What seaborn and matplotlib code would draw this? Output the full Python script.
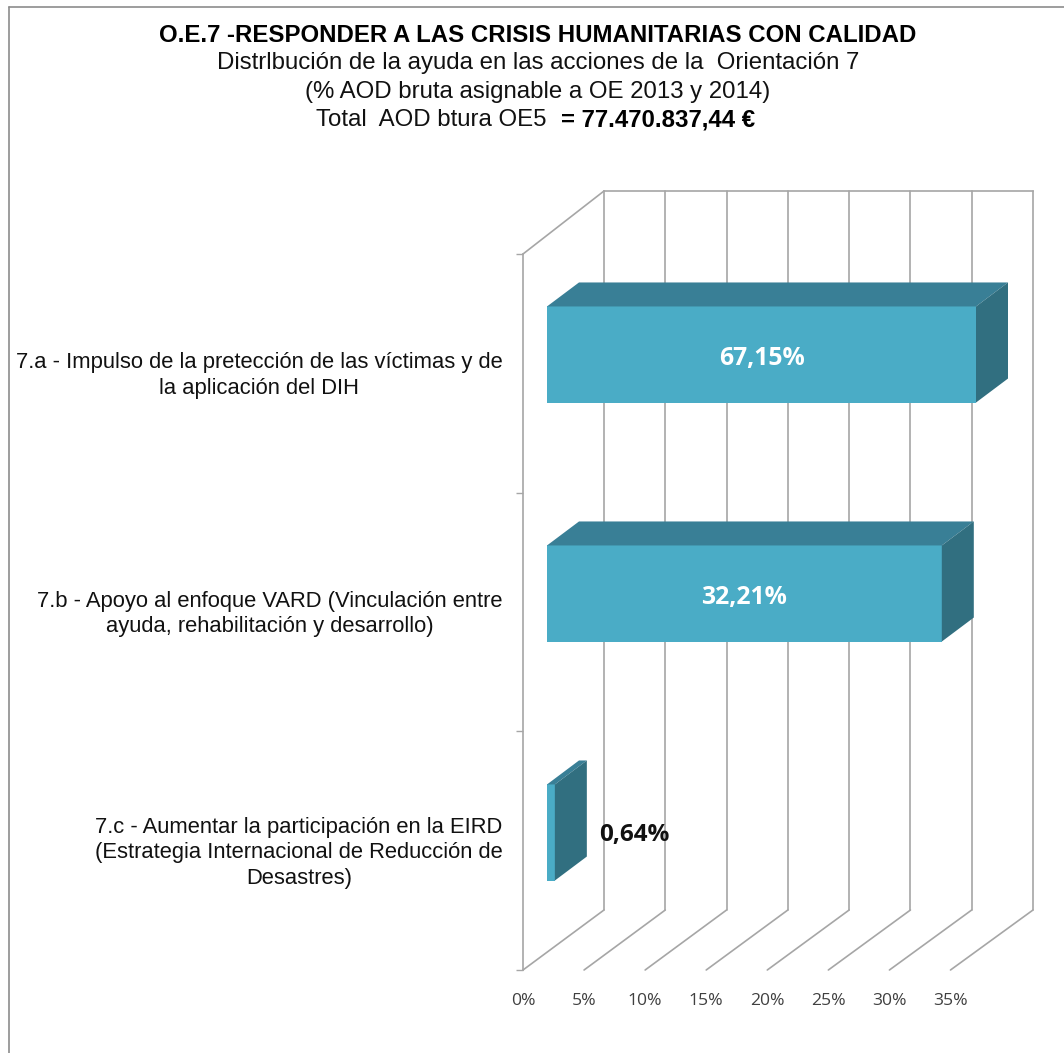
import matplotlib
matplotlib.use("Agg")
import matplotlib.pyplot as plt
import pandas as pd
import seaborn as sns
from matplotlib.lines import Line2D
from matplotlib.patches import ConnectionPatch
from matplotlib.transforms import ScaledTranslation

# Data
categories = [
    "7.a - Impulso de la pretección de las víctimas y de\nla aplicación del DIH",
    "7.b - Apoyo al enfoque VARD (Vinculación entre\nayuda, rehabilitación y desarrollo)",
    "7.c - Aumentar la participación en la EIRD\n(Estrategia Internacional de Reducción de\nDesastres)",
]
values = [67.15, 32.21, 0.64]
value_labels = ["67,15%", "32,21%", "0,64%"]
x_ticks = [0, 5, 10, 15, 20, 25, 30, 35]
x_tick_labels = ["0%", "5%", "10%", "15%", "20%", "25%", "30%", "35%"]

sns.set_theme(style="white")
plt.rcParams["font.family"] = ["Liberation Sans", "DejaVu Sans"]

W, H = 1064, 1053
GRID = "#a6a6a6"
FRONT = "#4aacc6"
TOP = "#397f96"
SIDE = "#316f80"


def px_axes(x0, y0, x1, y1):
    # axes placed by pixel box, y counted from the top of the image
    ax = fig.add_axes([x0 / W, 1 - y1 / H, (x1 - x0) / W, (y1 - y0) / H])
    ax.patch.set_visible(False)
    return ax


fig = plt.figure(figsize=(W / 100, H / 100), dpi=100, facecolor="white")

# Outer border, only left and top show in the crop
fig.add_artist(Line2D([9 / W, 9 / W], [0, 1 - 6.5 / H], color="#8c8c8c", lw=1.2))
fig.add_artist(Line2D([9 / W, 1], [1 - 6.5 / H, 1 - 6.5 / H], color="#8c8c8c", lw=1.2))

# Titles
fig.text(538 / W, 1 - 36 / H, "O.E.7 -RESPONDER A LAS CRISIS HUMANITARIAS CON CALIDAD",
         ha="center", va="center", fontsize=17.3, fontweight="bold", color="black")
fig.text(538 / W, 1 - 63 / H, "Distrlbución de la ayuda en las acciones de la  Orientación 7",
         ha="center", va="center", fontsize=17.3, color="#111111")
fig.text(538 / W, 1 - 92 / H, "(% AOD bruta asignable a OE 2013 y 2014)",
         ha="center", va="center", fontsize=17.3, color="#111111")
fig.text(553 / W, 1 - 120 / H, "Total  AOD btura OE5 ",
         ha="right", va="center", fontsize=17.3, color="#111111")
fig.text(561 / W, 1 - 120 / H, "= 77.470.837,44 €",
         ha="left", va="center", fontsize=17.3, fontweight="bold", color="black")

# Back wall with the vertical gridlines
ax_back = px_axes(604, 191, 1033, 910)
ax_back.set_xlim(0, 35)
ax_back.set_ylim(2.5, -0.5)
ax_back.set_xticks(x_ticks)
ax_back.set_yticks([])
ax_back.tick_params(axis="x", length=0, labelbottom=False)
ax_back.grid(axis="x", color=GRID, lw=1.2, clip_on=False)
for side in ["left", "right", "bottom"]:
    ax_back.spines[side].set_visible(False)
ax_back.spines["top"].set_color(GRID)
ax_back.spines["top"].set_linewidth(1.2)

# Front plane carries the axis labels
ax_front = px_axes(523, 254, 950.5, 970)
ax_front.set_xlim(0, 35)
ax_front.set_ylim(2.5, -0.5)
ax_front.set_xticks(x_ticks)
ax_front.set_xticklabels(x_tick_labels, fontsize=12.6, family="Open Sans", color="#404040")
ax_front.tick_params(axis="x", length=0, pad=16.5)
ax_front.set_yticks([-0.5, 0.5, 1.5, 2.5])
ax_front.set_yticklabels([])
ax_front.tick_params(axis="y", which="major", length=5, width=1, color=GRID, left=True)
ax_front.set_yticks([0, 1, 2], minor=True)
ax_front.set_yticklabels(categories, minor=True, fontsize=15.8, color="#111111",
                         ha="right", ma="center", linespacing=1.27)
ax_front.tick_params(axis="y", which="minor", length=0, pad=14.5, left=True)
# labels sit a little above the band centre in the original
for lab in ax_front.get_yticklabels(minor=True):
    lab.set_transform(lab.get_transform() + ScaledTranslation(0, 2.5 / 100, fig.dpi_scale_trans))
for side in ["top", "right", "bottom"]:
    ax_front.spines[side].set_visible(False)
ax_front.spines["left"].set_color(GRID)
ax_front.spines["left"].set_linewidth(1.2)

# Floor lines and the left wall edge
for tick in x_ticks:
    fig.add_artist(ConnectionPatch((tick, 2.5), (tick, 2.5), "data", "data",
                                   axesA=ax_front, axesB=ax_back, color=GRID, lw=1.2))
fig.add_artist(ConnectionPatch((0, -0.5), (0, -0.5), "data", "data",
                               axesA=ax_front, axesB=ax_back, color=GRID, lw=1.2))

# Bars sit in their own plane inside the box
ax = px_axes(547, 235, 976, 952)
df = pd.DataFrame({"categoria": categories, "valor": values})
sns.barplot(data=df, y="categoria", x="valor", orient="h", width=0.402,
            color=FRONT, saturation=1, linewidth=0, ax=ax)
ax.set_xlim(0, 35)
ax.set_ylim(2.5, -0.5)
ax.set_xlabel("")
ax.set_ylabel("")
ax.set_xticks([])
ax.set_yticks([])
sns.despine(ax=ax, left=True, bottom=True)

# Depth of the 3D faces, from pixels to data units
dx = 32 / 429 * 35
dy = 24 / 717 * 3
for bar in ax.patches:
    y0 = bar.get_y()
    y1 = y0 + bar.get_height()
    w = min(bar.get_width(), 35)
    ax.fill([0, w, w + dx, dx], [y0, y0, y0 - dy, y0 - dy], color=TOP, lw=0, clip_on=False)
    ax.fill([w, w + dx, w + dx, w], [y0, y0 - dy, y1 - dy, y1], color=SIDE, lw=0, clip_on=False)
ax.set_xlim(0, 35)
ax.set_ylim(2.5, -0.5)

# Data labels
for i, (val, lab) in enumerate(zip(values, value_labels)):
    if val > 35 * 0.1:
        ax.text(min(val, 35) / 2, i + 0.018, lab, ha="center", va="center", color="white",
                fontsize=17.8, fontweight="bold", family="Open Sans", clip_on=False)
    else:
        ax.annotate(lab, (val, i), xytext=(32, -2), textcoords="offset points", ha="left",
                    va="center", color="#111111", fontsize=17.5, fontweight="bold",
                    family="Open Sans", annotation_clip=False)

fig.savefig("out.png", dpi=100)
